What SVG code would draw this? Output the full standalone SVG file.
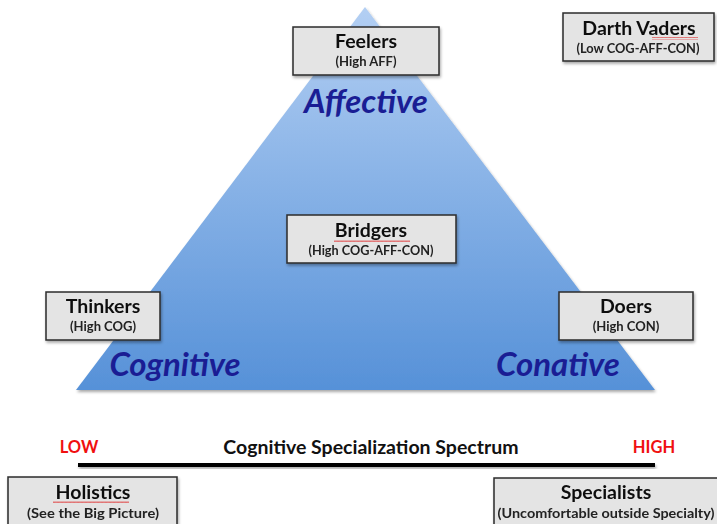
<svg xmlns="http://www.w3.org/2000/svg" width="717" height="524" viewBox="0 0 717 524">
  <defs>
    <linearGradient id="pyramidFill" x1="0" y1="0" x2="0" y2="1">
      <stop offset="0" stop-color="#b3cff3"/>
      <stop offset="1" stop-color="#5691d8"/>
    </linearGradient>
    <filter id="softShadow" x="-10%" y="-10%" width="130%" height="140%">
      <feGaussianBlur in="SourceAlpha" stdDeviation="1.5"/>
      <feOffset dx="1" dy="2" result="b"/>
      <feComponentTransfer><feFuncA type="linear" slope="0.35"/></feComponentTransfer>
      <feMerge><feMergeNode/><feMergeNode in="SourceGraphic"/></feMerge>
    </filter>
    <pattern id="squiggle" width="4" height="3" patternUnits="userSpaceOnUse">
      <path d="M0 2 L1 0.5 L2 2 L3 0.5 L4 2" fill="none" stroke="#e03030" stroke-width="0.7"/>
    </pattern>
  </defs>
  <style>
    .box { fill: #e4e4e4; stroke: #2b2b2b; stroke-width: 1.5; }
    .title { font-family: Lato, "Open Sans", sans-serif; font-weight: bold; font-size: 19.5px; fill: #111; text-anchor: middle; }
    .sub { font-family: Lato, "Open Sans", sans-serif; font-weight: bold; font-size: 13px; fill: #222; text-anchor: middle; }
    .face { font-family: Lato, "Open Sans", sans-serif; font-weight: bold; font-style: italic; font-size: 33px; fill: #1a1d94; text-anchor: middle; }
    .axis { font-family: Lato, "Open Sans", sans-serif; font-weight: bold; font-size: 19.5px; text-anchor: middle; }
    .end { font-family: Lato, "Open Sans", sans-serif; font-weight: bold; font-size: 16.5px; fill: #f01010; text-anchor: middle; }
  </style>

  <rect width="717" height="524" fill="#ffffff"/>

  <!-- pyramid -->
  <polygon points="365,7 76,390 655,390" fill="url(#pyramidFill)" filter="url(#softShadow)"/>
  <text class="face" x="366" y="113">Affective</text>
  <text class="face" x="175" y="376">Cognitive</text>
  <text class="face" x="558" y="376">Conative</text>

  <!-- spectrum axis -->
  <g id="connectors">
    <rect x="78" y="463" width="577" height="4" fill="#000" filter="url(#softShadow)"/>
  </g>
  <text class="end" x="79" y="453">LOW</text>
  <text class="axis" x="371" y="454" fill="#111">Cognitive Specialization Spectrum</text>
  <text class="end" x="654" y="453">HIGH</text>

  <g id="feelers" filter="url(#softShadow)">
    <rect class="box" x="293" y="27" width="146" height="48"/>
    <text class="title" x="366" y="48">Feelers</text>
    <text class="sub" x="366" y="66">(High AFF)</text>
  </g>

  <g id="darth-vaders" filter="url(#softShadow)">
    <rect class="box" x="563" y="13" width="151" height="48"/>
    <text class="title" x="639" y="35">Darth Vaders</text>
    <rect x="652" y="37" width="46" height="3" fill="url(#squiggle)"/>
    <text class="sub" x="638" y="53" textLength="123" lengthAdjust="spacingAndGlyphs">(Low COG-AFF-CON)</text>
  </g>

  <g id="bridgers" filter="url(#softShadow)">
    <rect class="box" x="287" y="215" width="169" height="48"/>
    <text class="title" x="371" y="237">Bridgers</text>
    <rect x="334" y="239" width="76" height="3" fill="url(#squiggle)"/>
    <text class="sub" x="371" y="255" textLength="125" lengthAdjust="spacingAndGlyphs">(High COG-AFF-CON)</text>
  </g>

  <g id="thinkers" filter="url(#softShadow)">
    <rect class="box" x="46" y="292" width="114" height="48"/>
    <text class="title" x="103" y="313">Thinkers</text>
    <text class="sub" x="103" y="331">(High COG)</text>
  </g>

  <g id="doers" filter="url(#softShadow)">
    <rect class="box" x="559" y="292" width="134" height="48"/>
    <text class="title" x="626" y="313">Doers</text>
    <text class="sub" x="626" y="331">(High CON)</text>
  </g>

  <g id="holistics" filter="url(#softShadow)">
    <rect class="box" x="8" y="477" width="169" height="60"/>
    <text class="title" x="93" y="499">Holistics</text>
    <rect x="53" y="501" width="76" height="3" fill="url(#squiggle)"/>
    <text class="sub" x="93" y="518" textLength="132" lengthAdjust="spacingAndGlyphs">(See the Big Picture)</text>
  </g>

  <g id="specialists" filter="url(#softShadow)">
    <rect class="box" x="494" y="478" width="240" height="60"/>
    <text class="title" x="606" y="499">Specialists</text>
    <text class="sub" x="606" y="518" textLength="217" lengthAdjust="spacingAndGlyphs">(Uncomfortable outside Specialty)</text>
  </g>
</svg>
